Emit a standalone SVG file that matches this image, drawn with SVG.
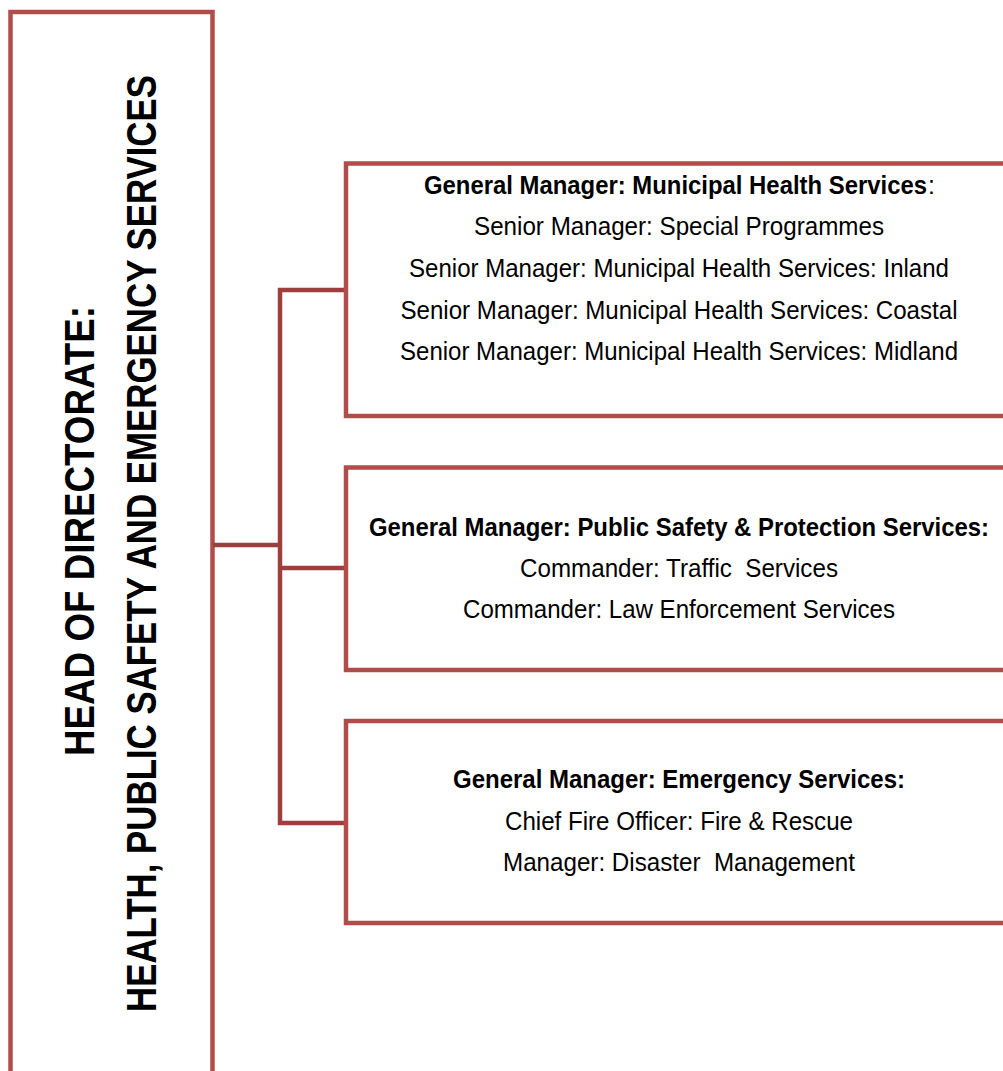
<svg xmlns="http://www.w3.org/2000/svg" width="1003" height="1071" viewBox="0 0 1003 1071">
<style>
.box{fill:#ffffff;stroke:#b24c4a;stroke-width:4.5}
.conn{fill:none;stroke:#9e3e3d;stroke-width:4.5;stroke-linejoin:miter}
.v{font-family:"Liberation Sans Narrow","Liberation Sans",Arial,sans-serif;font-weight:bold;font-size:42px;fill:#000}
.t{font-family:"Liberation Sans Narrow","Liberation Sans",Arial,sans-serif;font-size:25px;fill:#000;text-anchor:middle}
.s{text-anchor:start}
.b{font-weight:bold}
</style>
<rect width="1003" height="1071" fill="#ffffff"/>
<g id="head">
<rect class="box" x="10.5" y="12" width="202" height="1080"/>
<text class="v" transform="translate(94,756) rotate(-90)" textLength="450" lengthAdjust="spacingAndGlyphs">HEAD OF DIRECTORATE:</text>
<text class="v" transform="translate(156,1012) rotate(-90)" textLength="937" lengthAdjust="spacingAndGlyphs">HEALTH, PUBLIC SAFETY AND EMERGENCY SERVICES</text>
</g>
<g id="connectors">
<path class="conn" d="M213,545 H280 M346,290 H280 V823 H346 M280,568 H346"/>
</g>
<g id="mhs">
<rect class="box" x="346" y="163.5" width="700" height="252.5"/>
<text class="t s b" x="424" y="194" textLength="503" lengthAdjust="spacingAndGlyphs">General Manager: Municipal Health Services</text>
<text class="t s" x="928" y="194">:</text>
<text class="t" x="679" y="235" textLength="410" lengthAdjust="spacingAndGlyphs">Senior Manager: Special Programmes</text>
<text class="t" x="679" y="277" textLength="540" lengthAdjust="spacingAndGlyphs">Senior Manager: Municipal Health Services: Inland</text>
<text class="t" x="679" y="319" textLength="557" lengthAdjust="spacingAndGlyphs">Senior Manager: Municipal Health Services: Coastal</text>
<text class="t" x="679" y="360" textLength="558" lengthAdjust="spacingAndGlyphs">Senior Manager: Municipal Health Services: Midland</text>
</g>
<g id="psps">
<rect class="box" x="346" y="467.5" width="700" height="202.5"/>
<text class="t b" x="679" y="536" textLength="620" lengthAdjust="spacingAndGlyphs">General Manager: Public Safety &amp; Protection Services:</text>
<text class="t" x="679" y="577" textLength="318" lengthAdjust="spacingAndGlyphs" xml:space="preserve">Commander: Traffic  Services</text>
<text class="t" x="679" y="618" textLength="432" lengthAdjust="spacingAndGlyphs">Commander: Law Enforcement Services</text>
</g>
<g id="es">
<rect class="box" x="346" y="721" width="700" height="202"/>
<text class="t b" x="679" y="788" textLength="452" lengthAdjust="spacingAndGlyphs">General Manager: Emergency Services:</text>
<text class="t" x="679" y="830" textLength="348" lengthAdjust="spacingAndGlyphs">Chief Fire Officer: Fire &amp; Rescue</text>
<text class="t" x="679" y="871" textLength="352" lengthAdjust="spacingAndGlyphs" xml:space="preserve">Manager: Disaster  Management</text>
</g>
</svg>
